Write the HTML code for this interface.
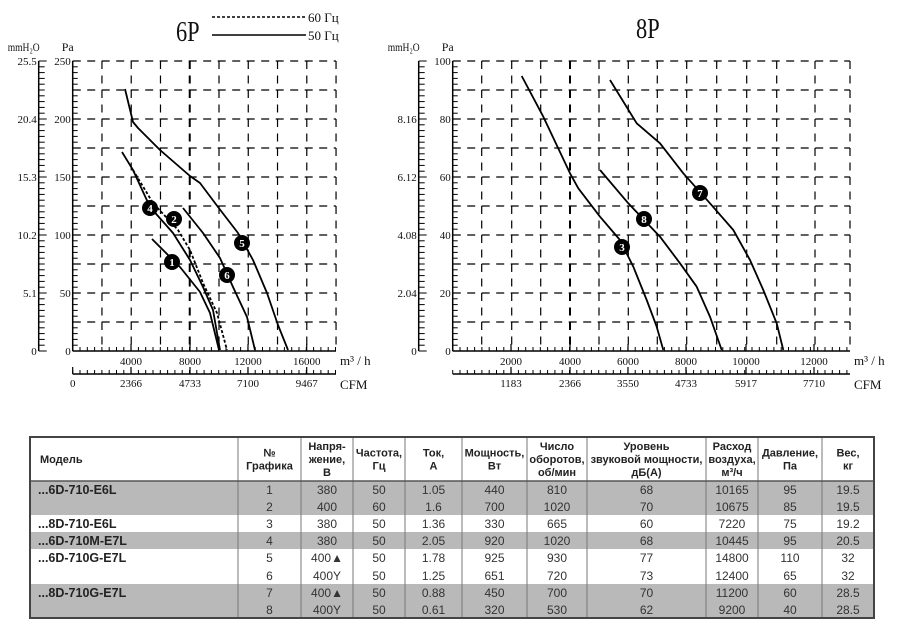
<!DOCTYPE html>
<html><head><meta charset="utf-8">
<style>
html,body{margin:0;padding:0;background:#fff;}
svg{display:block;}
.s{font-family:"Liberation Serif",serif;fill:#111;}
.t{font-family:"Liberation Sans Narrow","Liberation Sans",sans-serif;}
</style></head>
<body>
<svg id="c" width="900" height="623" viewBox="0 0 900 623" xmlns="http://www.w3.org/2000/svg">
<text class="s" x="176" y="41" font-size="28" transform="translate(176,0) scale(0.8,1) translate(-176,0)">6P</text>
<line x1="212" y1="17" x2="306" y2="17" stroke="#000" stroke-width="1.6" stroke-dasharray="3 2"/>
<line x1="212" y1="35" x2="306" y2="35" stroke="#000" stroke-width="1.6"/>
<text class="s" x="308" y="22" font-size="13">60 Гц</text>
<text class="s" x="308" y="40" font-size="13">50 Гц</text>
<text class="s" x="636" y="38" font-size="28" transform="translate(636,0) scale(0.8,1) translate(-636,0)">8P</text>
<g id="g"></g>
<g id="tb"></g>
</svg>
<script>
var NS="http://www.w3.org/2000/svg",g=document.getElementById('g');
function el(t,a,p,txt){var e=document.createElementNS(NS,t);for(var k in a)e.setAttribute(k,a[k]);if(txt!==undefined)e.textContent=txt;(p||g).appendChild(e);return e;}
function line(x1,y1,x2,y2,w,d){var a={x1:x1,y1:y1,x2:x2,y2:y2,stroke:'#000','stroke-width':w||1};if(d){a['stroke-dasharray']=d;}return el('line',a);}
function txt(x,y,s,sz,anc){return el('text',{x:x,y:y,'font-size':sz||11,'text-anchor':anc||'middle','class':'s'},g,s);}
var T=61,B=351;
function chart(L,R,vx,paLabels,mmLabels,mLabels,cLabels,ox){
 for(var i=0;i<10;i++){var y=T+i*29;line(L,y,R,y,1.2,'8 6.5');}
 vx.forEach(function(x,i){var th=(Math.abs(x-ox)<1)?2:1.2;if(i>0)line(x,T,x,B,th,'8 6.5');});
 line(L,B,R,B,1.5);
 line(L,T,L,B,1.5);
 for(var y=T;y<=B+0.1;y+=5.8){var maj=Math.abs((y-T)%29)<0.5||Math.abs((y-T)%29-29)<0.5;line(L,y,L+(maj?8:5),y,1);}
 var mx=L-34;line(mx,T,mx,B,1.5);
 for(var y=T;y<=B+0.1;y+=5.8){var maj=Math.abs((y-T)%58)<0.5||Math.abs((y-T)%58-58)<0.5;line(mx,y,mx+(maj?8:6),y,1);}
 el('text',{x:L-65,y:51,'font-size':12,'class':'s',textLength:32,lengthAdjust:'spacingAndGlyphs'},g,'mmH₂O');
 txt(L-5,51,'Pa',12);
 paLabels.forEach(function(p,i){txt(L-2,B-i*58+4,p,11,'end');});
 mmLabels.forEach(function(p,i){txt(mx-2,B-i*58+4,p,11,'end');});
 for(var x=L;x<=R;x+=7.3){line(x,B,x,B-4,1);}
 var cy=374;line(L,cy,R,cy,1.5);
 for(var x=L;x<=R;x+=7.3){line(x,cy,x,cy-4,1);}
 mLabels.forEach(function(a){txt(a[0],B+14,a[1],11);line(a[0],B,a[0],B-7,1.2);});
 cLabels.forEach(function(a){txt(a[0],cy+13,a[1],11);line(a[0],cy,a[0],cy-7,1.2);});
 el('text',{x:R+4,y:B+14,'font-size':13,'class':'s'},g,'m³ / h');
 el('text',{x:R+4,y:cy+15,'font-size':13,'class':'s'},g,'CFM');
}
var vL=[];for(var i=0;i<=9;i++)vL.push(72.7+i*29.26);
chart(72.7,336,vL,['0','50','100','150','200','250'],['0','5.1','10.2','15.3','20.4','25.5'],
 [[131,'4000'],[190,'8000'],[248,'12000'],[306.7,'16000']],[[72.7,'0'],[131,'2366'],[190,'4733'],[248,'7100'],[306.7,'9467']],190);
var vR=[452.7,481.7,511.7,540.7,570,599,628.3,657.3,686.7,716.7,746.7,776.7,815,850];
chart(452.7,850,vR,['0','20','40','60','80','100'],['0','2.04','4.08','6.12','8.16',''],
 [[511,'2000'],[570,'4000'],[628,'6000'],[686,'8000'],[746,'10000'],[814,'12000']],[[511,'1183'],[570,'2366'],[628,'3550'],[686,'4733'],[746,'5917'],[814,'7710']],570);
function curve(pts,d){var s='M'+pts.map(function(p){return p[0]+','+p[1];}).join(' L');var a={d:s,fill:'none',stroke:'#000','stroke-width':1.8,'stroke-linejoin':'round'};if(d)a['stroke-dasharray']=d;el('path',a);}
curve([[125,89],[133,122],[138,128],[160,150],[190,176],[200,183],[218,207],[238,233],[253,260],[267,293],[278,325],[288,350]]);
curve([[122,152],[133,170],[150,207],[173,233],[190,260],[203,287],[213,310],[220,350]]);
curve([[133,170],[153,203],[178,230],[190,250],[203,283],[217,313],[227,350]],'3 2');
curve([[152,239],[180,267],[200,292],[210,313],[219,350]]);
curve([[183,208],[203,233],[220,258],[233,287],[247,317],[255,350]]);
curve([[521.7,76],[543.3,116.7],[570,173.3],[578.3,188.3],[600,216.7],[620,240],[633.3,266.7],[646.7,300],[656.7,326.7],[663.3,350]]);
curve([[600,170],[628.3,203.3],[660,236.7],[680,263.3],[696.7,286.7],[710,316.7],[721.7,350]]);
curve([[610,80],[636.7,123.3],[660,143.3],[683.3,173.3],[710,203.3],[733.3,230],[750,260],[763.3,290],[776.7,323.3],[783.3,350]]);
[[150,208,'4'],[174,219,'2'],[242,243,'5'],[172,262,'1'],[227,275,'6'],[700,193,'7'],[644,219,'8'],[622,247,'3']].forEach(function(m){
 el('circle',{cx:m[0],cy:m[1],r:8,fill:'#000'});
 el('text',{x:m[0],y:m[1]+4,'font-size':11,'text-anchor':'middle','class':'s',style:'fill:#fff;font-weight:bold'},g,m[2]);
});
var tb=document.getElementById('tb');
var cols=[30,238,301,353,405,462,527,587,706,758,822,874];
var GR='#b9b9b9';
el('rect',{x:30,y:481,width:844,height:34,fill:GR},tb);
el('rect',{x:30,y:532,width:844,height:17,fill:GR},tb);
el('rect',{x:30,y:584,width:844,height:34,fill:GR},tb);
for(var i=1;i<cols.length-1;i++)el('line',{x1:cols[i],y1:437,x2:cols[i],y2:618,stroke:'#777','stroke-width':1},tb);
el('line',{x1:30,y1:481,x2:874,y2:481,stroke:'#555','stroke-width':1.5},tb);
el('rect',{x:30,y:437,width:844,height:181,fill:'none',stroke:'#444','stroke-width':2},tb);
var hd=[['Модель'],['№','Графика'],['Напря-','жение,','В'],['Частота,','Гц'],['Ток,','А'],['Мощность,','Вт'],['Число','оборотов,','об/мин'],['Уровень','звуковой мощности,','дБ(А)'],['Расход','воздуха,','м³/ч'],['Давление,','Па'],['Вес,','кг']];
hd.forEach(function(h,i){var cx=i==0?40:(cols[i]+cols[i+1])/2;var n=h.length;var y0=459-(n-1)*6.5+4;
 h.forEach(function(s,j){el('text',{x:cx,y:y0+j*13,'font-size':11,'font-weight':'bold','text-anchor':i==0?'start':'middle','class':'t',fill:'#222'},tb,s);});});
var rows=[['...6D-710-E6L','1','380','50','1.05','440','810','68','10165','95','19.5',490],
['','2','400','60','1.6','700','1020','70','10675','85','19.5',507],
['...8D-710-E6L','3','380','50','1.36','330','665','60','7220','75','19.2',524],
['...6D-710M-E7L','4','380','50','2.05','920','1020','68','10445','95','20.5',541],
['...6D-710G-E7L','5','400▲','50','1.78','925','930','77','14800','110','32',558],
['','6','400Y','50','1.25','651','720','73','12400','65','32',576],
['...8D-710G-E7L','7','400▲','50','0.88','450','700','70','11200','60','28.5',593],
['','8','400Y','50','0.61','320','530','62','9200','40','28.5',610]];
rows.forEach(function(r){var y=r[11]+4;
 if(r[0])el('text',{x:38,y:y,'font-size':12.5,'font-weight':'bold','class':'t',fill:'#222'},tb,r[0]);
 for(var i=1;i<=10;i++)el('text',{x:(cols[i]+cols[i+1])/2,y:y,'font-size':12,'text-anchor':'middle','class':'t',fill:'#333'},tb,r[i]);});
</script>
</body></html>
